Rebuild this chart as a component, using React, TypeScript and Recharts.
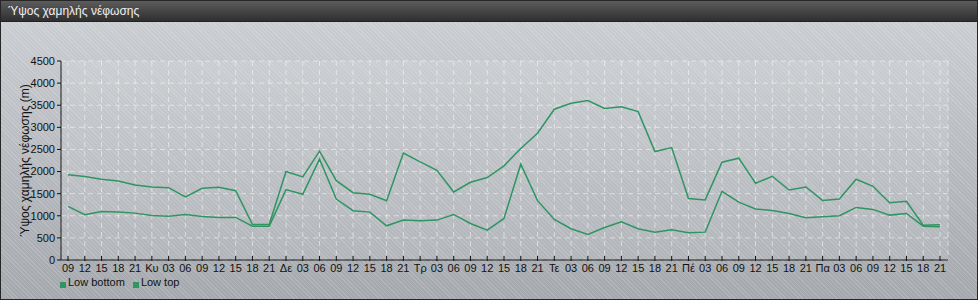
import React from "react";
import { LineChart, Line, XAxis, YAxis, CartesianGrid, Legend, Label } from "recharts";

const categories: string[] = [
  "09", "12", "15", "18", "21",
  "Κυ", "03", "06", "09", "12", "15", "18", "21",
  "Δε", "03", "06", "09", "12", "15", "18", "21",
  "Τρ", "03", "06", "09", "12", "15", "18", "21",
  "Τε", "03", "06", "09", "12", "15", "18", "21",
  "Πέ", "03", "06", "09", "12", "15", "18", "21",
  "Πα", "03", "06", "09", "12", "15", "18", "21",
];

const lowBottom: number[] = [
  1212, 1023, 1098, 1083, 1060, 1008, 992, 1030, 985, 962, 962, 765, 765,
  1591, 1485, 2280, 1379, 1114, 1083, 773, 902, 886, 902, 1030, 826, 674, 940,
  2166, 1342, 917, 706, 577, 736, 864, 706, 630, 683, 615, 630,
  1553, 1308, 1152, 1121, 1053, 955, 977, 1000, 1189, 1144, 1015, 1053, 765, 750,
];

const lowTop: number[] = [
  1930, 1890, 1826, 1788, 1697, 1652, 1636, 1428, 1621, 1644, 1568, 803, 803,
  2000, 1879, 2462, 1795, 1523, 1485, 1341, 2417, 2220, 2030, 1538, 1758, 1864, 2130,
  2520, 2867, 3410, 3546, 3606, 3425, 3463, 3356, 2452, 2543, 1389, 1359,
  2212, 2303, 1735, 1894, 1583, 1652, 1348, 1379, 1826, 1667, 1295, 1326, 788, 795,
];

const yTicks: number[] = [0, 500, 1000, 1500, 2000, 2500, 3000, 3500, 4000, 4500];

const data = categories.map((c, i) => ({
  idx: i,
  label: c,
  bottom: lowBottom[i],
  top: lowTop[i],
}));

const FONT = '"Liberation Sans", Arial, sans-serif';
const GREEN = "#2f9562";

const XTick = (props: any) => {
  const { x, y, payload } = props;
  const lbl = categories[payload.value] ?? "";
  return (
    <g>
      <line x1={x} y1={y - 8} x2={x} y2={y - 3} stroke="#111" strokeWidth={1} />
      <text x={x} y={y} dy="0.71em" textAnchor="middle" fontSize={11} fill="#111" fontFamily={FONT}>
        {lbl}
      </text>
    </g>
  );
};

const LegendContent = (props: any) => {
  const { payload } = props;
  return (
    <div style={{ height: 24, display: "flex", paddingLeft: 60, boxSizing: "border-box", fontFamily: FONT, fontSize: 11, color: "#111", lineHeight: "13px" }}>
      {(payload || []).map((p: any) => (
        <div key={p.value} style={{ display: "flex", alignItems: "flex-start", marginRight: 8 }}>
          <span style={{ display: "inline-block", width: 6, height: 6, background: p.color, marginTop: 6, marginRight: 2 }} />
          <span>{p.value}</span>
        </div>
      ))}
    </div>
  );
};

export default function App() {
  return (
    <div
      style={{
        position: "absolute",
        left: 0,
        top: 0,
        width: 978,
        height: 300,
        boxSizing: "border-box",
        border: "1px solid #262626",
        overflow: "hidden",
        background:
          "repeating-linear-gradient(45deg, rgba(255,255,255,0.14) 0px, rgba(255,255,255,0.14) 1px, rgba(0,0,0,0) 1px, rgba(0,0,0,0) 3px), linear-gradient(#ccd0d4, #a4a8ad)",
      }}
    >
      <div
        style={{
          position: "absolute",
          left: 0,
          top: 0,
          width: 978,
          height: 21,
          background: "linear-gradient(#5c5c5c, #2f2f2f)",
          borderBottom: "1px solid #222",
          color: "#f0f0f0",
          fontFamily: FONT,
          fontSize: 12,
          lineHeight: "21px",
          paddingLeft: 7,
          boxSizing: "border-box",
        }}
      >
        Ύψος χαμηλής νέφωσης
      </div>
      <div style={{ position: "absolute", left: -1, top: -1 }}>
        <LineChart width={978} height={300} data={data} margin={{ top: 61, right: 30, bottom: 0, left: 0 }}>
          <CartesianGrid
            stroke="rgba(255,255,255,0.5)"
            strokeDasharray="5 4"
            fill="rgba(255,255,255,0.1)"
          />
          <XAxis
            dataKey="idx"
            type="category"
            interval={0}
            padding={{ left: 7, right: 8 }}
            height={16}
            tickLine={false}
            tickSize={0}
            tickMargin={4}
            axisLine={{ stroke: "#111", strokeWidth: 1 }}
            tick={<XTick />}
          />
          <YAxis
            width={61}
            domain={[0, 4500]}
            ticks={yTicks}
            interval={0}
            tickSize={4}
            tickMargin={2}
            axisLine={{ stroke: "#111", strokeWidth: 1 }}
            tickLine={{ stroke: "#111" }}
            tick={{ fontSize: 11, fill: "#111", fontFamily: FONT }}
          >
            <Label
              value="Ύψος χαμηλής νέφωσης (m)"
              angle={-90}
              position="center"
              dx={-6}
              style={{ fontSize: 12, fill: "#111", fontFamily: FONT, textAnchor: "middle" }}
            />
          </YAxis>
          <Legend verticalAlign="bottom" align="left" content={<LegendContent />} wrapperStyle={{ left: 0, bottom: 0 }} />
          <Line
            name="Low bottom"
            dataKey="bottom"
            stroke={GREEN}
            strokeWidth={1.5}
            dot={false}
            activeDot={false}
            isAnimationActive={false}
          />
          <Line
            name="Low top"
            dataKey="top"
            stroke={GREEN}
            strokeWidth={1.5}
            dot={false}
            activeDot={false}
            isAnimationActive={false}
          />
        </LineChart>
      </div>
    </div>
  );
}
